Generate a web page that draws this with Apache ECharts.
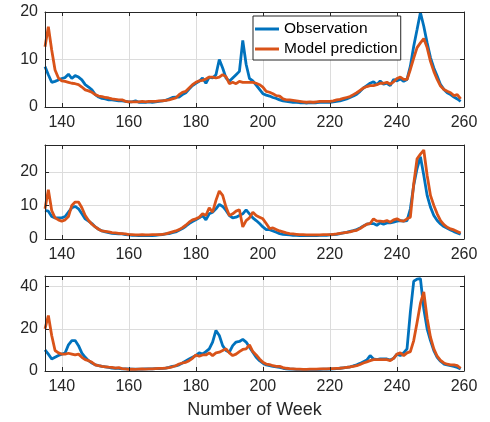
<!DOCTYPE html>
<html>
<head>
<meta charset="utf-8">
<script src="https://cdn.jsdelivr.net/npm/echarts@6/dist/echarts.min.js"></script>
<style>
  html, body { margin: 0; padding: 0; background: #fff; }
  #chart { width: 490px; height: 422px; }
</style>
</head>
<body>
<div id="chart"></div>
<script>
// weeks run 135 .. 259, one value per week
const firstWeek = 135
const xTicks = [140, 160, 180, 200, 220, 240, 260]
const xGrid = [140, 160, 180, 200, 220, 240]

// panel 1
const obs1 = [8.5, 6.8, 5.2, 5.4, 5.7, 6.0, 6.2, 6.9, 6.0, 6.6, 6.3, 5.7, 4.7, 4.2, 3.6,
  2.6, 2.1, 1.8, 1.7, 1.5, 1.5, 1.4, 1.3, 1.3, 1.2, 1.1, 1.1, 1.3, 1.0, 1.0,
  1.0, 1.1, 1.0, 1.1, 1.2, 1.3, 1.4, 1.7, 2.0, 2.1, 2.1, 2.6, 3.0, 3.8, 4.5,
  5.0, 5.4, 6.1, 5.0, 6.3, 6.1, 6.8, 10.0, 8.2, 6.1, 5.4, 6.1, 6.8, 7.5, 14.0,
  9.0, 6.0, 5.5, 4.6, 3.7, 2.8, 2.5, 2.3, 2.0, 1.8, 1.5, 1.3, 1.2, 1.1, 1.0,
  1.0, 0.9, 0.9, 0.8, 0.9, 0.9, 0.9, 1.0, 1.0, 1.0, 1.0, 1.1, 1.2, 1.3, 1.5,
  1.7, 2.0, 2.3, 2.7, 3.3, 4.0, 4.5, 5.0, 5.3, 4.7, 5.5, 4.8, 5.0, 4.5, 5.8,
  5.5, 5.9, 5.4, 5.8, 8.6, 12.8, 16.3, 19.9, 17.0, 13.5, 10.4, 8.2, 6.5, 4.7, 3.7,
  3.0, 2.6, 2.1, 1.7, 1.2]
const mod1 = [12.7, 16.9, 12.0, 7.8, 6.1, 5.5, 5.4, 5.2, 5.0, 4.9, 4.7, 4.2, 3.6, 3.4, 3.1,
  2.6, 2.3, 2.2, 2.0, 1.9, 1.7, 1.6, 1.5, 1.5, 1.2, 1.1, 1.1, 1.1, 1.1, 1.2,
  1.1, 1.2, 1.2, 1.2, 1.3, 1.3, 1.4, 1.5, 1.7, 1.9, 2.6, 3.1, 3.3, 4.0, 4.7,
  5.2, 5.5, 5.6, 5.9, 6.3, 6.3, 6.1, 6.3, 6.8, 6.4, 4.9, 5.2, 4.9, 5.4, 5.2,
  5.2, 5.2, 5.2, 5.0, 4.7, 4.2, 3.3, 3.1, 2.8, 2.4, 2.3, 1.7, 1.5, 1.5, 1.4,
  1.3, 1.2, 1.1, 1.0, 1.1, 1.0, 1.1, 1.2, 1.2, 1.2, 1.2, 1.3, 1.5, 1.6, 1.8,
  2.0, 2.2, 2.6, 3.0, 3.5, 4.0, 4.3, 4.5, 4.5, 4.7, 5.0, 5.0, 5.2, 4.8, 5.3,
  6.0, 6.3, 5.8, 5.8, 7.9, 10.3, 12.5, 13.5, 14.4, 12.5, 9.6, 7.5, 5.8, 4.4, 3.7,
  3.3, 3.0, 2.4, 2.6, 1.7]

// panel 2
const obs2 = [8.5, 8.3, 6.7, 6.3, 6.3, 6.3, 6.7, 8.0, 9.3, 9.7, 9.0, 7.5, 6.0, 5.3, 4.6,
  3.6, 2.9, 2.4, 2.1, 1.9, 1.7, 1.6, 1.5, 1.5, 1.3, 1.2, 1.1, 1.1, 1.0, 1.0,
  1.0, 1.1, 1.0, 1.1, 1.2, 1.3, 1.5, 1.6, 1.9, 2.1, 2.6, 3.1, 3.8, 4.6, 5.2,
  5.7, 6.3, 7.0, 5.7, 7.5, 8.0, 9.0, 10.3, 9.7, 8.5, 7.0, 6.3, 6.5, 7.0, 7.5,
  8.7, 7.5, 6.3, 5.5, 4.6, 3.6, 2.8, 2.8, 2.4, 2.0, 1.6, 1.4, 1.3, 1.2, 1.1,
  1.1, 1.0, 1.0, 1.0, 1.0, 1.0, 1.0, 1.1, 1.1, 1.1, 1.2, 1.3, 1.4, 1.6, 1.8,
  2.0, 2.3, 2.5, 2.8, 3.3, 3.9, 4.4, 4.6, 4.6, 4.1, 4.8, 4.4, 4.8, 4.8, 5.0,
  5.3, 5.5, 5.3, 5.5, 9.0, 16.0, 21.0, 24.5, 19.0, 13.0, 9.5, 7.0, 5.5, 4.5, 3.7,
  3.2, 2.7, 2.2, 1.8, 1.4]
const mod2 = [9.0, 14.7, 8.5, 6.3, 5.7, 5.3, 5.7, 6.7, 10.0, 11.0, 11.0, 9.3, 7.0, 5.5, 4.4,
  3.6, 2.9, 2.4, 2.3, 2.1, 1.9, 1.8, 1.7, 1.6, 1.5, 1.3, 1.3, 1.2, 1.2, 1.3,
  1.2, 1.2, 1.3, 1.3, 1.3, 1.4, 1.5, 1.8, 2.1, 2.4, 2.8, 3.4, 4.1, 5.0, 5.7,
  6.0, 6.5, 7.5, 7.0, 9.3, 8.0, 11.5, 14.3, 13.0, 9.5, 7.0, 7.5, 8.3, 8.7, 3.6,
  5.5, 6.3, 8.0, 7.0, 6.5, 6.0, 4.6, 3.1, 3.3, 2.8, 2.4, 2.1, 1.8, 1.6, 1.5,
  1.4, 1.3, 1.3, 1.2, 1.2, 1.2, 1.2, 1.2, 1.3, 1.3, 1.3, 1.4, 1.5, 1.7, 1.8,
  2.0, 2.1, 2.4, 2.6, 3.1, 3.8, 4.4, 4.6, 6.0, 5.3, 5.3, 5.2, 5.5, 5.0, 5.7,
  6.0, 5.5, 5.3, 6.0, 6.5, 16.4, 23.9, 25.3, 26.5, 19.0, 13.0, 10.0, 7.5, 5.5, 4.3,
  3.5, 3.0, 2.7, 2.2, 1.8]

// panel 3
const obs3 = [10.0, 8.0, 5.7, 6.5, 7.3, 8.0, 8.5, 12.4, 14.4, 14.4, 12.0, 8.5, 6.5, 4.9, 3.8,
  2.9, 2.5, 2.2, 2.0, 1.7, 1.4, 1.3, 1.2, 1.0, 1.0, 1.0, 0.9, 0.9, 0.9, 0.9,
  1.0, 1.0, 1.0, 1.1, 1.1, 1.2, 1.4, 1.7, 2.2, 2.4, 2.9, 3.8, 4.8, 5.7, 6.5,
  7.3, 8.6, 8.0, 9.2, 10.5, 13.7, 19.2, 16.8, 12.0, 9.7, 8.9, 12.0, 13.7, 14.0, 15.0,
  13.7, 11.3, 8.9, 6.5, 4.9, 3.7, 2.9, 2.5, 2.2, 2.0, 1.7, 1.3, 1.0, 0.9, 0.9,
  0.8, 0.8, 0.8, 0.8, 0.8, 0.8, 0.8, 0.8, 0.9, 0.9, 0.9, 1.0, 1.1, 1.3, 1.5,
  1.7, 2.0, 2.4, 2.9, 3.6, 4.4, 5.2, 7.3, 5.7, 5.4, 5.7, 5.7, 5.7, 5.2, 6.0,
  8.0, 7.3, 8.6, 10.5, 28.0, 42.5, 43.5, 43.8, 29.5, 20.0, 14.4, 9.7, 6.5, 4.6, 3.3,
  2.9, 2.5, 2.2, 1.7, 1.0]
const mod3 = [20.0, 26.3, 16.8, 9.7, 8.6, 8.0, 8.0, 8.4, 8.0, 7.6, 8.0, 6.5, 5.4, 4.9, 4.1,
  2.9, 2.5, 2.2, 2.0, 1.8, 1.7, 1.4, 1.6, 1.1, 1.0, 0.8, 0.9, 0.8, 0.9, 1.0,
  0.9, 1.0, 1.0, 1.1, 1.2, 1.2, 1.4, 1.6, 2.0, 2.5, 3.3, 3.8, 4.1, 4.9, 6.0,
  7.6, 7.0, 7.6, 7.6, 8.6, 7.3, 8.6, 8.9, 9.7, 10.5, 8.6, 7.3, 8.0, 9.2, 10.2,
  10.5, 12.4, 9.2, 7.6, 5.7, 4.1, 3.3, 3.0, 2.5, 2.2, 2.2, 1.6, 1.3, 1.1, 1.0,
  0.9, 0.9, 0.8, 0.8, 0.9, 0.9, 0.9, 1.0, 1.0, 1.0, 1.1, 1.1, 1.2, 1.3, 1.5,
  1.7, 1.9, 2.2, 2.5, 3.1, 3.8, 4.3, 4.9, 5.4, 5.4, 5.4, 5.4, 5.4, 4.9, 6.0,
  8.0, 8.6, 7.3, 8.6, 9.2, 14.4, 23.0, 32.0, 37.5, 25.0, 16.0, 10.5, 7.0, 5.0, 3.8,
  3.2, 2.9, 2.9, 2.5, 1.3]

const yMaxes = [20, 28, 45]
const yTicks = [[0, 10, 20], [0, 10, 20], [0, 20, 40]]
const yGrid = [[10], [10, 20], [20, 40]]

const FONT = '"Liberation Sans", Arial, sans-serif'
const TEXT = '#262626'
const BLUE = '#0072BD'
const ORANGE = '#D95319'

const panels = [
  { obs: obs1, mod: mod1, top: 12, height: 95 },
  { obs: obs2, mod: mod2, top: 145, height: 94 },
  { obs: obs3, mod: mod3, top: 276, height: 95 },
]

const toPairs = (arr) => arr.map((v, i) => [firstWeek + i, v])

const grids = []
const xAxes = []
const yAxes = []
const series = []

panels.forEach((p, i) => {
  grids.push({ left: 45, width: 419, top: p.top, height: p.height })

  const edge = {
    show: true, onZero: false, lineStyle: { color: TEXT, width: 1 },
  }
  // bottom x axis with labels, top x axis only for the box + ticks
  const xBottom = {
    type: 'value', gridIndex: i, position: 'bottom', min: 135, max: 260, z: 3,
    axisLine: edge,
    axisTick: { show: true, inside: true, length: 4, customValues: xTicks, lineStyle: { color: TEXT } },
    axisLabel: { customValues: xTicks, margin: 8, fontSize: 16, color: TEXT, fontFamily: FONT },
    splitLine: { show: false },
  }
  if (i === 2) {
    xBottom.name = 'Number of Week'
    xBottom.nameLocation = 'middle'
    xBottom.nameGap = 30
    xBottom.nameTextStyle = { fontSize: 18, color: TEXT, fontFamily: FONT }
  }
  xAxes.push(xBottom)
  xAxes.push({
    type: 'value', gridIndex: i, position: 'top', min: 135, max: 260, z: 3,
    axisLine: edge,
    axisTick: { show: true, inside: true, length: 4, customValues: xTicks, lineStyle: { color: TEXT } },
    axisLabel: { show: false },
    splitLine: { show: false },
  })

  yAxes.push({
    type: 'value', gridIndex: i, position: 'left', min: 0, max: yMaxes[i], z: 3,
    axisLine: edge,
    axisTick: { show: true, inside: true, length: 4, customValues: yTicks[i], lineStyle: { color: TEXT } },
    axisLabel: { customValues: yTicks[i], margin: 7, fontSize: 16, color: TEXT, fontFamily: FONT },
    splitLine: { show: false },
  })
  yAxes.push({
    type: 'value', gridIndex: i, position: 'right', min: 0, max: yMaxes[i], z: 3,
    axisLine: edge,
    axisTick: { show: true, inside: true, length: 4, customValues: yTicks[i], lineStyle: { color: TEXT } },
    axisLabel: { show: false },
    splitLine: { show: false },
  })

  // grid lines
  const gridLines = xGrid.map((v) => ({ xAxis: v })).concat(yGrid[i].map((v) => ({ yAxis: v })))

  series.push({
    type: 'line',
    name: 'Observation',
    xAxisIndex: 2 * i,
    yAxisIndex: 2 * i,
    data: toPairs(p.obs),
    symbol: 'none',
    z: 2,
    lineStyle: { color: BLUE, width: 2.8 },
    itemStyle: { color: BLUE },
    markLine: {
      silent: true,
      symbol: 'none',
      z: 1,
      label: { show: false },
      emphasis: { disabled: true },
      lineStyle: { color: '#dcdcdc', type: 'solid', width: 1 },
      data: gridLines,
    },
  })
  series.push({
    type: 'line',
    name: 'Model prediction',
    xAxisIndex: 2 * i,
    yAxisIndex: 2 * i,
    data: toPairs(p.mod),
    symbol: 'none',
    z: 2,
    lineStyle: { color: ORANGE, width: 2.8 },
    itemStyle: { color: ORANGE },
  })
})

const chart = echarts.init(document.getElementById('chart'))
chart.setOption({
  animation: false,
  backgroundColor: '#fff',
  textStyle: { fontFamily: FONT },
  legend: {
    data: ['Observation', 'Model prediction'],
    orient: 'vertical',
    left: 253,
    top: 16,
    icon: 'rect',
    itemWidth: 24,
    itemHeight: 3,
    itemGap: 4,
    padding: [5, 3, 3, 2],
    backgroundColor: '#fff',
    borderColor: TEXT,
    borderWidth: 1,
    z: 10,
    textStyle: { fontSize: 15.5, lineHeight: 16, color: '#000', fontFamily: FONT },
  },
  grid: grids,
  xAxis: xAxes,
  yAxis: yAxes,
  series,
})
</script>
</body>
</html>
